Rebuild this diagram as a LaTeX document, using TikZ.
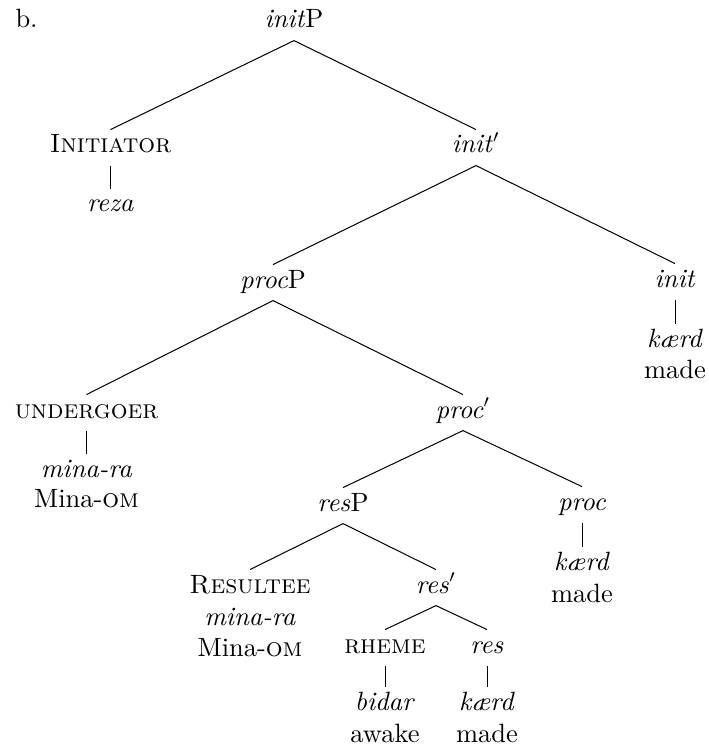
\documentclass[tikz,border=0pt]{standalone}
\begin{document}
\begin{tikzpicture}[x=0.397pt,y=-0.397pt]
\tikzset{
  lab/.style={anchor=base, inner sep=0pt, text height=9.1pt, text depth=4.8pt, font=\fontsize{10.5}{12.6}\selectfont},
  edge/.style={line width=0.4pt},
}
\useasboundingbox (0,0) rectangle (708,745);
\node[lab, anchor=base west] (b) at (15,28) {b.};
\node[lab] (initP) at (294,28) {\textit{init}P};
\node[lab] (initiator) at (110.5,153) {\textsc{Initiator}};
\node[lab] (initbar) at (476,153) {\textit{init}$'$};
\node[lab] (reza) at (110.5,212) {\textit{reza}};
\node[lab] (procP) at (273,288) {\textit{proc}P};
\node[lab] (init) at (675,287) {\textit{init}};
\node[lab] (kaerdA) at (675,347) {\textit{kærd}};
\node[lab] (madeA) at (675,378) {made};
\node[lab] (undergoer) at (86.5,418) {\textsc{undergoer}};
\node[lab] (procbar) at (463,418) {\textit{proc}$'$};
\node[lab] (minaraA) at (86.5,477) {\textit{mina-ra}};
\node[lab] (minaomA) at (86.5,507) {Mina-\textsc{om}};
\node[lab] (resP) at (343,511) {\textit{res}P};
\node[lab] (proc) at (582,510) {\textit{proc}};
\node[lab] (kaerdB) at (582,570) {\textit{kærd}};
\node[lab] (madeB) at (582,602) {made};
\node[lab] (resultee) at (250,593) {\textsc{Resultee}};
\node[lab] (minaraB) at (250,625) {\textit{mina-ra}};
\node[lab] (minaomB) at (250,656) {Mina-\textsc{om}};
\node[lab] (resbar) at (436,593) {\textit{res}$'$};
\node[lab] (rheme) at (385,653) {\textsc{rheme}};
\node[lab] (res) at (487,653) {\textit{res}};
\node[lab] (bidar) at (385,710) {\textit{bidar}};
\node[lab] (awake) at (385,742) {awake};
\node[lab] (kaerdC) at (487,710) {\textit{kærd}};
\node[lab] (madeC) at (487,742) {made};
\draw[edge] (initiator.north) -- (initP.south) -- (initbar.north);
\draw[edge] (initiator.south) -- (reza.north);
\draw[edge] (procP.north) -- (initbar.south) -- (init.north);
\draw[edge] (init.south) -- (kaerdA.north);
\draw[edge] (undergoer.north) -- (procP.south) -- (procbar.north);
\draw[edge] (undergoer.south) -- (minaraA.north);
\draw[edge] (resP.north) -- (procbar.south) -- (proc.north);
\draw[edge] (proc.south) -- (kaerdB.north);
\draw[edge] (resultee.north) -- (resP.south) -- (resbar.north);
\draw[edge] (rheme.north) -- (resbar.south) -- (res.north);
\draw[edge] (rheme.south) -- (bidar.north);
\draw[edge] (res.south) -- (kaerdC.north);
\end{tikzpicture}
\end{document}
